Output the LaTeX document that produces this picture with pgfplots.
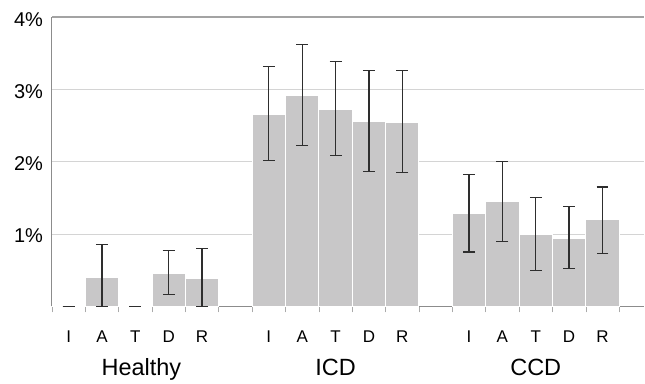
\documentclass[border=0pt]{standalone}
\usepackage{fontspec}
\setmainfont{Liberation Sans}
\usepackage{pgfplots}
\pgfplotsset{compat=1.18}
\usepackage{pgfplotstable}
\definecolor{barc}{HTML}{C8C7C8}
\definecolor{gridc}{HTML}{D4D4D4}
\definecolor{axc}{HTML}{8C8C8C}
\definecolor{errc}{HTML}{2E2E2E}
\pgfplotstableread{
x y ep em
0 0.000 0.00 0.00
1 0.405 0.45 0.405
2 0.000 0.00 0.00
3 0.456 0.32 0.29
4 0.380 0.42 0.38
6 2.650 0.665 0.635
7 2.920 0.70 0.69
8 2.730 0.66 0.64
9 2.560 0.70 0.69
10 2.545 0.715 0.695
12 1.280 0.54 0.53
13 1.450 0.55 0.555
14 0.990 0.52 0.49
15 0.940 0.44 0.42
16 1.195 0.455 0.465
}\data
\begin{document}
\begin{tikzpicture}
\begin{axis}[name=ax,
  scale only axis, width=593pt, height=289.4pt,
  xmin=-0.5, xmax=17.25, ymin=0, ymax=4,
  axis x line=bottom, axis y line=left,
  axis line style={axc, line width=0.9pt, -},
  ytick={1,2,3}, yticklabels={1\%,2\%,3\%},
  extra y ticks={4}, extra y tick labels={4\%},
  extra y tick style={grid=major, major grid style={color=axc!80, line width=1.6pt}},
  ymajorgrids, major grid style={gridc, line width=0.8pt},
  ytick style={draw=none},
  yticklabel style={font=\fontsize{20}{20}\selectfont, anchor=east, inner sep=0pt, xshift=-4.5pt, yshift=-2pt},
  xtick={0,1,2,3,4,6,7,8,9,10,12,13,14,15,16},
  xticklabels={I,A,T,D,R,I,A,T,D,R,I,A,T,D,R},
  xticklabel style={font=\fontsize{17}{17}\selectfont, anchor=base, inner sep=0pt, yshift=-32.3pt},
  major x tick style={draw=none},
  minor xtick={-0.5,0.5,1.5,2.5,3.5,4.5,5.5,6.5,7.5,8.5,9.5,10.5,11.5,12.5,13.5,14.5,15.5,16.5},
  minor x tick style={gridc!80!black, line width=0.6pt},
  minor tick length=6pt,
  tick align=outside,
  /pgf/number format/assume math mode=true,
  clip=false,
]
\addplot[ybar, bar width=1, bar shift=0, fill=barc, draw=white, line width=1pt,
  error bars/.cd, y dir=both, y explicit,
  error bar style={errc, line width=1.3pt},
  error mark options={errc, rotate=90, mark size=6pt, line width=1.3pt}]
  table[x=x, y=y, y error plus=ep, y error minus=em]{\data};
\node[font=\fontsize{23.5}{23.5}\selectfont, anchor=base] at (axis cs:2.18,0) [yshift=-69.5pt] {Healthy};
\node[font=\fontsize{23.5}{23.5}\selectfont, anchor=base] at (axis cs:8,0) [yshift=-69.5pt] {ICD};
\node[font=\fontsize{23.5}{23.5}\selectfont, anchor=base] at (axis cs:14,0) [yshift=-69.5pt] {CCD};
\end{axis}
\path[use as bounding box] ([xshift=-52pt, yshift=-76.3pt]ax.south west) rectangle ([yshift=17.3pt]ax.north east);
\end{tikzpicture}
\end{document}
